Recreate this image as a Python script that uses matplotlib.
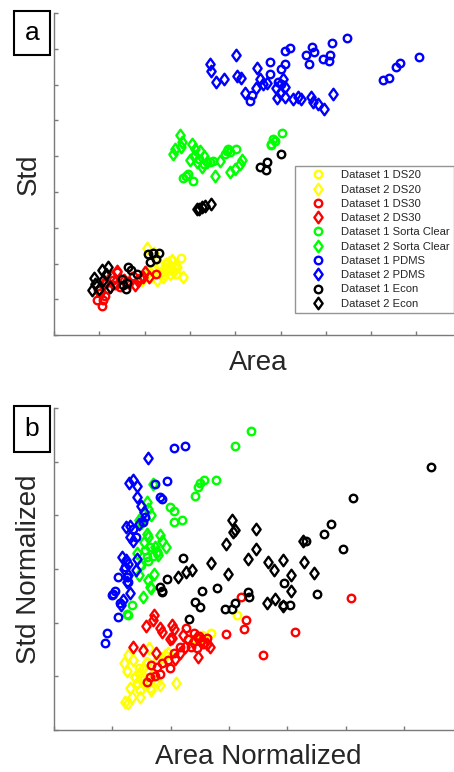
import matplotlib.pyplot as plt
from matplotlib.path import Path
from matplotlib.patches import Rectangle

plt.rcParams['font.family'] = ['Liberation Sans', 'DejaVu Sans']

labels = ['Dataset 1 DS20', 'Dataset 2 DS20', 'Dataset 1 DS30', 'Dataset 2 DS30',
          'Dataset 1 Sorta Clear', 'Dataset 2 Sorta Clear', 'Dataset 1 PDMS',
          'Dataset 2 PDMS', 'Dataset 1 Econ', 'Dataset 2 Econ']
colors = ['#ffff00', '#ffff00', '#ff0000', '#ff0000', '#00ff00', '#00ff00',
          '#0000ff', '#0000ff', '#000000', '#000000']

# ---- panel a: Area vs Std ----
a_ds20_1_x = [2.80, 2.55, 2.62, 2.70, 2.45, 2.50, 2.66, 2.38, 2.58, 2.20, 2.30, 2.42]
a_ds20_1_y = [2.16, 1.95, 1.80, 1.70, 1.90, 2.05, 1.88, 1.75, 2.10, 1.85, 1.95, 1.68]
a_ds20_2_x = [2.05, 2.85, 2.27, 2.40, 2.55, 2.65, 2.35, 2.15, 1.95, 2.48, 2.72, 2.60, 2.10, 2.20]
a_ds20_2_y = [2.42, 1.62, 1.53, 1.62, 1.70, 1.78, 1.95, 1.65, 1.55, 2.00, 1.90, 2.10, 1.80, 2.30]
a_ds30_1_x = [0.94, 1.05, 1.08, 1.02, 1.20, 1.30, 1.40, 1.15, 1.35, 2.25, 1.60, 1.75, 1.90, 1.45, 1.12, 0.98]
a_ds30_1_y = [0.99, 0.81, 0.97, 1.17, 1.30, 1.55, 1.75, 1.45, 1.40, 1.70, 1.50, 1.65, 1.60, 1.35, 1.10, 1.25]
a_ds30_2_x = [1.79, 1.97, 2.10, 1.40, 1.55, 1.25, 1.65, 1.85, 1.10, 2.00]
a_ds30_2_y = [1.39, 1.62, 1.62, 1.80, 1.55, 1.65, 1.45, 1.50, 1.45, 1.75]
a_sc_1_x = [2.84, 2.96, 3.06, 2.92, 3.30, 3.44, 3.52, 3.19, 3.77, 3.85, 3.89, 4.02, 3.81,
            4.80, 4.88, 5.03, 4.84, 4.78]
a_sc_1_y = [4.39, 4.51, 4.32, 4.45, 4.78, 4.83, 4.87, 4.92, 5.06, 5.20, 5.11, 5.20, 5.15,
            5.34, 5.43, 5.64, 5.48, 5.32]
a_sc_2_x = [2.78, 2.82, 2.67, 2.63, 2.80, 3.05, 3.11, 3.08, 3.22, 3.15, 3.26, 3.37, 3.55,
            3.89, 4.00, 4.11, 4.14, 3.66, 3.00, 3.30]
a_sc_2_y = [5.60, 5.41, 5.20, 5.06, 5.25, 5.34, 5.20, 5.01, 5.15, 4.83, 4.69, 4.83, 4.46,
            4.55, 4.64, 4.78, 4.89, 4.87, 4.90, 5.00]
a_pdms_1_x = [6.47, 6.14, 5.70, 5.75, 5.57, 5.62, 6.09, 5.94, 6.08, 5.22, 5.11, 4.76, 5.10,
              5.00, 4.76, 4.95, 5.01, 4.37, 4.33, 8.05, 7.64, 7.55, 7.40, 7.27]
a_pdms_1_y = [8.31, 8.17, 8.06, 7.91, 7.82, 7.57, 7.82, 7.72, 7.66, 8.03, 7.94, 7.64, 7.58,
              7.45, 7.31, 7.08, 7.01, 6.70, 6.55, 7.78, 7.60, 7.50, 7.18, 7.13]
a_pdms_2_x = [4.02, 3.44, 3.47, 3.58, 3.75, 4.05, 4.12, 4.48, 4.22, 4.55, 4.46, 4.62, 4.71,
              4.90, 5.06, 5.10, 4.93, 4.99, 5.10, 5.27, 5.39, 5.45, 5.67, 5.72, 5.83, 5.95, 6.15]
a_pdms_2_y = [7.82, 7.57, 7.38, 7.08, 7.15, 7.24, 7.20, 7.47, 6.78, 7.15, 6.92, 7.01, 7.04,
              6.92, 7.15, 6.94, 6.64, 6.78, 6.66, 6.59, 6.66, 6.59, 6.66, 6.52, 6.45, 6.31, 6.75]
a_econ_1_x = [5.01, 4.55, 4.70, 4.67, 2.08, 2.19, 2.32, 2.12, 2.25, 1.64, 1.71, 1.83, 1.53,
              1.49, 1.58, 1.62]
a_econ_1_y = [5.06, 4.69, 4.85, 4.62, 2.26, 2.29, 2.28, 2.04, 2.14, 1.90, 1.81, 1.72, 1.39,
              1.58, 1.30, 1.45]
a_econ_2_x = [3.15, 3.26, 3.33, 3.47, 3.20, 0.83, 0.91, 1.05, 1.20, 1.09, 1.24, 0.88, 1.00, 1.15]
a_econ_2_y = [3.51, 3.58, 3.60, 3.65, 3.53, 1.25, 1.44, 1.81, 1.90, 1.53, 1.35, 1.60, 1.30, 1.70]

# ---- panel b: normalized ----
b_ds20_1_x = [3.13, 2.69, 2.53, 1.39, 1.45, 1.59, 1.53, 1.65, 1.47, 1.76, 1.87, 1.70, 1.62, 2.40, 2.60]
b_ds20_1_y = [2.15, 1.80, 1.77, 0.99, 1.15, 1.27, 0.87, 0.78, 0.74, 1.30, 1.33, 1.05, 1.10, 1.70, 1.65]
b_ds20_2_x = [1.20, 1.27, 1.22, 1.27, 1.31, 1.42, 1.47, 1.33, 1.63, 2.10, 1.67, 1.82, 1.76,
              1.59, 1.53, 1.39, 1.45, 1.90, 1.96, 1.35, 1.50, 1.25]
b_ds20_2_y = [1.25, 1.40, 0.53, 0.50, 0.78, 0.87, 0.62, 0.62, 1.52, 0.87, 0.74, 0.84, 0.90,
              1.24, 1.15, 0.99, 1.05, 1.40, 1.43, 1.30, 0.95, 1.10]
b_ds30_1_x = [5.10, 4.14, 3.59, 3.20, 3.29, 3.25, 2.95, 2.26, 1.99, 1.59, 1.65, 1.73, 1.82,
              1.85, 1.67, 1.76, 2.30, 2.40, 2.48, 2.55, 2.62, 2.35, 2.45, 2.05, 2.16, 1.95]
b_ds30_1_y = [2.46, 1.82, 1.40, 2.48, 2.05, 1.89, 1.78, 1.91, 1.15, 0.90, 0.98, 1.00, 1.05,
              1.24, 1.21, 1.18, 1.70, 1.80, 1.75, 1.60, 1.72, 1.55, 1.52, 1.43, 1.55, 1.30]
b_ds30_2_x = [1.71, 1.57, 1.70, 1.81, 1.85, 2.02, 2.05, 1.99, 2.03, 1.75, 1.35, 1.52, 2.22,
              2.38, 2.45, 2.53, 2.62, 2.67, 2.47, 2.25, 2.16, 2.07]
b_ds30_2_y = [2.14, 1.93, 2.05, 1.91, 1.83, 1.95, 1.89, 1.69, 1.71, 1.43, 1.54, 1.50, 1.77,
              1.64, 1.74, 1.67, 1.61, 1.55, 1.36, 1.55, 1.43, 1.33]
b_sc_1_x = [3.37, 3.11, 2.78, 2.57, 2.47, 2.42, 2.50, 1.99, 2.06, 2.05, 2.19, 1.33, 1.25,
            1.27, 1.56, 1.65, 1.59, 1.50, 1.70, 1.76, 1.62]
b_sc_1_y = [5.57, 5.29, 4.66, 4.66, 4.53, 4.37, 4.60, 4.16, 4.09, 3.88, 3.91, 2.33, 2.17,
            2.14, 3.35, 3.41, 3.23, 3.07, 3.25, 3.32, 3.15]
b_sc_2_x = [1.69, 1.59, 1.62, 1.67, 1.46, 1.50, 1.59, 1.62, 1.82, 1.86, 1.92, 1.73, 1.76,
            1.79, 1.43, 1.47, 1.46, 1.62, 1.71, 1.52, 1.65, 1.67, 1.55]
b_sc_2_y = [4.59, 4.25, 4.12, 4.00, 3.91, 3.86, 3.66, 3.60, 3.63, 3.53, 3.41, 3.41, 3.32,
            3.26, 3.29, 3.07, 2.88, 2.79, 2.91, 2.48, 2.67, 2.64, 3.50]
b_pdms_1_x = [2.06, 2.25, 1.93, 1.73, 1.82, 1.86, 1.56, 1.53, 1.10, 1.05, 1.02, 0.99, 1.10,
              0.91, 0.87, 1.25, 1.27, 1.13, 1.22, 1.40, 1.35]
b_pdms_1_y = [5.25, 5.30, 4.65, 4.59, 4.34, 4.31, 3.97, 3.88, 2.85, 2.60, 2.54, 2.51, 2.11,
              1.80, 1.62, 2.85, 2.76, 2.36, 3.04, 3.60, 3.75]
b_pdms_2_x = [1.61, 1.29, 1.36, 1.43, 1.42, 1.50, 1.54, 1.23, 1.30, 1.30, 1.35, 1.17, 1.24,
              1.27, 1.20, 1.27, 1.25, 1.30, 1.18, 1.15, 1.41, 1.42, 1.45]
b_pdms_2_y = [5.07, 4.60, 4.66, 4.54, 4.35, 4.17, 4.06, 3.78, 3.81, 3.60, 3.53, 3.22, 3.16,
              3.10, 3.00, 2.89, 2.76, 2.55, 2.42, 2.33, 2.98, 3.19, 3.84]
b_econ_1_x = [6.46, 5.13, 4.75, 4.63, 4.96, 4.32, 4.51, 3.95, 4.05, 3.92, 3.33, 3.35, 3.10,
              2.94, 3.05, 2.80, 2.54, 2.41, 2.50, 2.32, 2.22, 1.93, 1.85, 1.81, 1.86]
b_econ_1_y = [4.90, 4.32, 3.84, 3.66, 3.38, 3.52, 2.53, 2.74, 2.33, 2.33, 2.57, 2.48, 2.36,
              2.26, 2.25, 2.65, 2.59, 2.39, 2.29, 2.07, 3.21, 2.82, 2.60, 2.67, 2.57]
b_econ_2_x = [3.06, 3.07, 3.11, 3.47, 3.47, 2.95, 2.70, 2.99, 3.33, 3.67, 3.77, 3.93, 4.07,
              4.07, 4.29, 4.46, 4.27, 3.65, 3.79, 3.92, 2.13, 2.27, 2.36]
b_econ_2_y = [3.91, 3.69, 3.72, 3.75, 3.38, 3.47, 3.12, 2.90, 3.18, 3.14, 2.98, 3.16, 2.88,
              2.60, 3.13, 2.93, 3.52, 2.36, 2.45, 2.31, 2.85, 2.95, 2.98]

series_a = [(a_ds20_1_x, a_ds20_1_y), (a_ds20_2_x, a_ds20_2_y), (a_ds30_1_x, a_ds30_1_y),
            (a_ds30_2_x, a_ds30_2_y), (a_sc_1_x, a_sc_1_y), (a_sc_2_x, a_sc_2_y),
            (a_pdms_1_x, a_pdms_1_y), (a_pdms_2_x, a_pdms_2_y), (a_econ_1_x, a_econ_1_y),
            (a_econ_2_x, a_econ_2_y)]
series_b = [(b_ds20_1_x, b_ds20_1_y), (b_ds20_2_x, b_ds20_2_y), (b_ds30_1_x, b_ds30_1_y),
            (b_ds30_2_x, b_ds30_2_y), (b_sc_1_x, b_sc_1_y), (b_sc_2_x, b_sc_2_y),
            (b_pdms_1_x, b_pdms_1_y), (b_pdms_2_x, b_pdms_2_y), (b_econ_1_x, b_econ_1_y),
            (b_econ_2_x, b_econ_2_y)]

# MATLAB-like diamond (taller than wide)
diamond = Path([(0, 1), (0.72, 0), (0, -1), (-0.72, 0), (0, 1)], closed=True)

spine_col = '#7a7a7a'
text_col = '#262626'


def draw_panel(ax, series, xmax, ymax, xlabel, ylabel):
    for i, (xs, ys) in enumerate(series):
        if i % 2 == 0:
            ax.plot(xs, ys, linestyle='none', marker='o', markersize=5.4,
                    markerfacecolor='none', markeredgecolor=colors[i],
                    markeredgewidth=1.7, label=labels[i])
        else:
            ax.plot(xs, ys, linestyle='none', marker=diamond, markersize=8.3,
                    markerfacecolor='none', markeredgecolor=colors[i],
                    markeredgewidth=1.7, label=labels[i])
    ax.set_xlim(0, xmax)
    ax.set_ylim(0, ymax)
    ax.set_xticks(range(0, int(xmax) + 1))
    ax.set_yticks(range(0, int(ymax) + 1))
    ax.set_xticklabels([])
    ax.set_yticklabels([])
    ax.tick_params(direction='in', length=3, width=1, colors=spine_col)
    for s in ['top', 'right']:
        ax.spines[s].set_visible(False)
    for s in ['left', 'bottom']:
        ax.spines[s].set_color(spine_col)
        ax.spines[s].set_linewidth(1)
    ax.set_xlabel(xlabel, fontsize=20, color=text_col)
    ax.set_ylabel(ylabel, fontsize=20, color=text_col)
    ax.xaxis.set_label_coords(0.51, -0.045)
    ax.yaxis.set_label_coords(-0.03, 0.5)


fig = plt.figure(figsize=(4.54, 7.72), dpi=100)
ax1 = fig.add_axes([0.119, 0.566, 0.881, 0.417])
ax2 = fig.add_axes([0.119, 0.0544, 0.881, 0.417])

draw_panel(ax1, series_a, 8.83, 9, 'Area', 'Std')
draw_panel(ax2, series_b, 6.86, 6, 'Area Normalized', 'Std Normalized')

leg = ax1.legend(loc='upper left', bbox_to_anchor=(0.6025, 0.524), borderaxespad=0,
                 fontsize=8.1, frameon=True, fancybox=False, handlelength=3.4,
                 handletextpad=0.34, labelspacing=0.38, borderpad=0.35)
leg.get_frame().set_edgecolor(spine_col)
leg.get_frame().set_linewidth(1)
for t in leg.get_texts():
    t.set_color(text_col)

# panel letters in boxes
for (y0, h, ty, letter) in [(0.9288, 0.057, 0.957, 'a'), (0.4145, 0.0596, 0.444, 'b')]:
    fig.patches.append(Rectangle((0.0308, y0), 0.0793, h, transform=fig.transFigure,
                                 fill=False, edgecolor='black', linewidth=1.5))
    fig.text(0.0705, ty, letter, ha='center', va='center', fontsize=19, color='black')

fig.savefig('out.png', dpi=100)
